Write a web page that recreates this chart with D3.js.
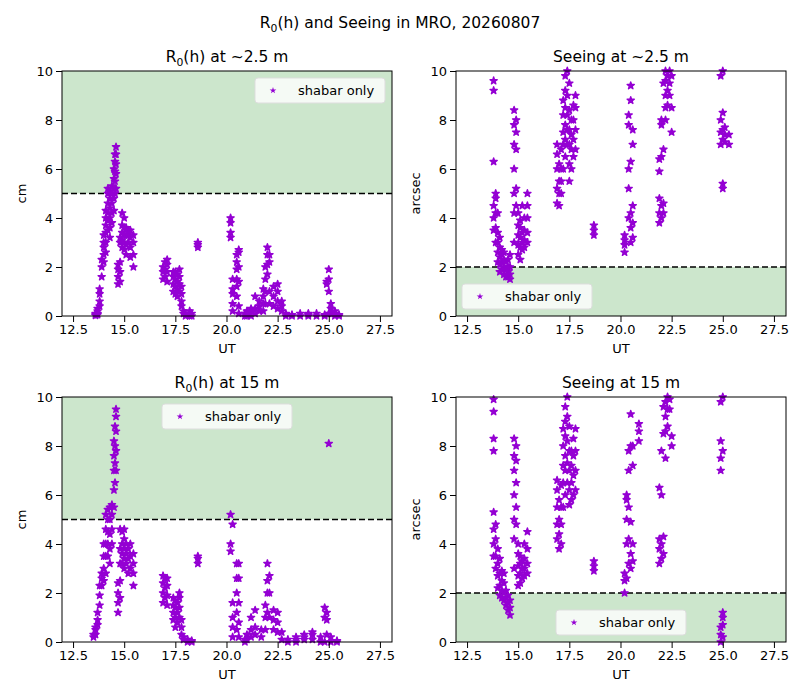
<!DOCTYPE html>
<html>
<head>
<style>
body { margin: 0; background: #fff; }
text { font-family: "DejaVu Sans", sans-serif; }
</style>
</head>
<body>
<svg id="fig" width="800" height="700"></svg>
<script src="https://d3js.org/d3.v7.min.js"></script>
<script>
// each column: [UT, values...]
const r0Low = [
  [13.6,0.02,0.05,0.1],[13.7,0.05,0.1,0.2,0.3],[13.8,0.4,0.6,0.9,1.1],[13.9,1.6,2.0,2.3],
  [14.0,2.2,2.5,2.8,3.0,3.3],[14.1,2.6,3.0,3.4,3.7,4.0,4.3],[14.2,3.5,3.9,4.2,4.6,5.0,5.2],
  [14.3,3.2,3.6,4.0,4.4,4.8,5.1],[14.4,3.8,4.2,4.6,5.0,5.3],[14.5,4.3,4.8,5.2,5.6,6.0],
  [14.55,5.0,5.5,5.9,6.3,6.6],[14.6,5.2,5.8,6.2,6.6,6.9],[14.7,1.3,1.6,1.9,2.1],
  [14.8,1.4,1.8,2.2,3.0,3.2],[14.9,2.8,3.1,3.4,3.7,4.2],[15.0,2.7,3.0,3.3,3.6,4.0],
  [15.1,2.5,2.9,3.3,3.6],[15.2,3.0,3.3,3.5],[15.3,2.4,2.8,3.2,3.5],[15.45,2.0,2.5,3.0,3.3],
  [16.9,1.5,1.8,2.0],[17.0,1.6,1.9,2.2],[17.1,1.4,1.8,2.1,2.3],[17.4,1.0,1.3,1.6,1.8],
  [17.5,0.9,1.2,1.5,1.8],[17.6,0.8,1.1,1.4,1.7],[17.7,1.0,1.3,1.6,1.9],[17.8,0.4,0.6,0.9,1.2],
  [17.9,0.1,0.2],[18.0,0.0,0.1],[18.2,0.0,0.05,0.2],[18.3,0.0,0.1],[18.6,2.8,2.9,3.0],
  [20.2,3.2,3.4,3.8,4.0],[20.3,0.2,0.5,0.9,1.1,1.5],[20.5,0.8,1.2,1.5,1.9,2.2,2.5],
  [20.6,0.1,0.4,1.4,2.0,2.6,2.7],[20.9,0.0,0.1],[21.0,0.0,0.1,0.2],[21.2,0.0,0.2,0.3],
  [21.4,0.1,0.3,0.8],[21.6,0.2,0.4,0.6],[21.8,0.2,0.5,0.8,1.1],[21.9,0.5,1.0,1.5,2.0],
  [22.0,1.7,2.1,2.5,2.8],[22.1,0.5,1.0,2.2,2.5],[22.3,0.4,0.8,1.2],[22.5,0.3,0.6,1.0,1.3],
  [22.7,0.2,0.4,0.6],[22.9,0.0,0.1],[23.2,0.0,0.05],[23.6,0.0,0.1],[24.0,0.0,0.05,0.1],
  [24.4,0.0,0.1],[24.8,0.0,0.05],[24.9,1.3,1.4],[25.0,0.1,1.0,1.5,1.9],[25.1,0.1,0.3,0.5],
  [25.3,0.0,0.1,0.2],[25.5,0.0,0.05]
];
const seeLow = [
  [13.8,3.5,4.0,4.5,6.3,9.2,9.6],[13.9,3.0,3.6,4.2,4.8,5.0],[14.0,2.2,2.6,3.0,3.4,4.2],
  [14.1,1.8,2.1,2.4,2.8,3.2],[14.2,1.9,2.2,2.5,2.7],[14.3,1.7,2.0,2.3,2.6],[14.4,1.6,1.9,2.2],
  [14.5,1.6,1.8,2.0,2.3],[14.6,1.5,1.7,2.0,2.5],[14.8,3.0,4.2,5.0,6.0,7.0,7.8,8.4],
  [14.9,4.5,5.2,6.8,7.5,8.0],[15.0,2.5,2.9,3.3,3.7,4.2],[15.1,2.3,2.8,3.2,3.6,3.9],
  [15.2,2.7,3.0,3.4,4.5],[15.3,2.8,3.1,3.5,4.0],[15.45,3.0,3.4,4.0,4.5,5.0],
  [16.9,4.6,5.2,6.0,6.6,7.0],[17.0,4.5,5.0,5.5,6.2],[17.1,5.0,5.5,6.0,6.8],
  [17.2,6.0,7.0,7.5,8.2,8.8],[17.3,6.5,7.2,7.8,8.5,9.2,9.8],[17.4,7.0,7.6,8.2,9.0,10.0],
  [17.5,5.5,6.2,7.0,7.6,8.4,9.5],[17.6,6.0,6.8,7.4,8.0],[17.7,6.5,7.2,8.0,8.6],
  [17.8,6.8,7.6,8.5,9.0],[18.7,3.3,3.5,3.7],[20.2,2.6,2.9,3.1,3.3],[20.4,4.0,5.2,6.0,7.8,8.2],
  [20.5,3.0,3.6,4.2,6.3,8.8,9.4],[20.6,3.2,3.8,4.5,7.0,7.6],[21.9,3.8,4.2,4.8,5.9,6.4],
  [22.0,4.0,4.5,6.5,7.8,8.0],[22.1,4.2,4.6,6.8,9.5],[22.2,8.0,8.5,9.0,9.6,10.0],
  [22.3,8.6,9.2,9.8],[22.4,9.0,9.5,10.0],[22.5,7.5,8.5,9.8],[24.9,7.0,7.5,8.0,9.8],
  [25.0,5.2,5.4,7.2,7.6,8.3,10.0],[25.1,7.1,7.4,7.7],[25.3,7.0,7.4]
];
const r0High = [
  [13.5,0.2,0.3],[13.6,0.3,0.5,0.6],[13.7,0.7,0.9,1.2],[13.8,1.5,1.9,2.3],[13.9,2.3,2.6,2.8],
  [14.0,2.5,3.0,3.5,4.0],[14.1,2.8,3.5,4.0,4.6,5.2],[14.2,3.5,4.0,4.5,5.0,5.4],
  [14.3,3.2,3.8,4.4,5.0,5.5],[14.4,4.0,4.6,5.2,5.6],[14.5,5.5,6.2,7.0,7.6,8.2],
  [14.55,6.5,7.3,8.0,8.8],[14.6,7.0,7.8,8.6,9.2,9.5],[14.7,1.2,1.6,2.0,2.4],
  [14.8,1.8,2.5,3.2,3.8,4.6],[14.9,3.2,3.6,4.0,4.5],[15.0,3.0,3.4,3.8,4.2,4.6],
  [15.1,3.2,3.6,4.0],[15.2,2.8,3.4,3.8],[15.3,3.0,3.5,4.0],[15.45,2.3,2.8,3.2,3.6],
  [16.9,1.6,2.0,2.4,2.7],[17.0,1.8,2.2,2.6],[17.1,1.5,1.9,2.3,2.6],[17.4,0.9,1.2,1.5,1.8],
  [17.5,0.6,1.0,1.4,1.7],[17.6,0.8,1.2,1.6],[17.7,1.0,1.4,1.8,2.0],[17.8,0.3,0.6,0.9],
  [17.9,0.1,0.2],[18.1,0.0,0.1],[18.3,0.0,0.05],[18.6,3.2,3.4,3.5],[20.2,3.7,4.0,5.2],
  [20.3,0.2,0.6,1.0,1.6,4.8],[20.5,0.5,1.2,2.0,2.6,3.2],[20.6,0.2,0.8,1.6,2.6,3.2],
  [20.9,0.0,0.1],[21.0,0.1,0.3],[21.2,0.2,0.5,1.0],[21.4,0.3,0.6,1.3],[21.7,0.2,0.5],
  [21.9,0.5,1.0,1.5],[22.0,1.2,2.0,2.5,3.2],[22.1,1.0,2.0,2.7],[22.3,0.5,0.9,1.3],
  [22.5,0.4,0.8,1.2],[22.7,0.1,0.4],[23.0,0.0,0.1],[23.4,0.0,0.1,0.2],[23.8,0.1,0.2,0.3],
  [24.2,0.1,0.3,0.4],[24.6,0.0,0.2],[24.8,0.0,1.0,1.4],[24.9,0.3,0.9,1.2],[25.0,8.1],
  [25.1,0.0,0.2],[25.4,0.0,0.05]
];
const seeHigh = [
  [13.8,3.5,4.0,4.6,5.3,7.8,8.3,9.4,9.9],[13.9,3.0,3.5,4.2,4.8],[14.0,2.2,2.7,3.2,3.8],
  [14.1,1.9,2.3,2.8,3.4],[14.2,1.8,2.1,2.5,2.9],[14.3,1.7,2.0,2.4,2.8],[14.4,1.5,1.8,2.1],
  [14.5,1.3,1.6,1.9],[14.6,1.1,1.4,1.7],[14.8,3.0,4.2,5.0,6.0,7.0,7.6,8.3],
  [14.9,4.8,5.5,6.5,7.4,8.0],[15.0,2.3,2.7,3.1,3.6,4.0],[15.1,2.4,2.8,3.2,3.5],
  [15.2,2.6,3.0,3.3],[15.3,2.7,3.0,3.4,4.0],[15.45,2.8,3.2,3.8,4.5],
  [16.9,4.2,4.8,5.5,6.2,6.6],[17.0,3.8,4.4,5.0,5.8],[17.1,4.0,4.8,5.5,6.4],
  [17.2,5.5,6.5,7.2,8.0,8.7],[17.3,6.0,7.0,7.6,8.4,9.0,9.6],[17.4,6.5,7.3,8.2,9.2,10.0],
  [17.5,5.6,6.2,7.0,7.8,8.8],[17.6,5.8,6.5,7.2,7.8],[17.7,6.0,6.8,7.6,8.3],
  [17.8,6.2,7.0,7.8,8.7],[18.7,2.9,3.1,3.3],[20.2,2.0,2.5,2.8],[20.3,2.6,4.0,5.0,5.8,6.0],
  [20.4,3.2,4.2,5.5,7.0,7.8],[20.5,3.0,3.6,4.9,8.0,9.3],[20.6,3.3,4.0,7.2,8.0],
  [20.9,8.2,8.6,8.9],[21.9,3.2,3.8,4.2,6.3],[22.0,3.4,4.0,6.0,7.8],[22.1,3.6,4.3,8.5,9.6],
  [22.2,7.5,8.6,9.2,9.8],[22.3,8.8,9.5,10.0],[22.4,9.5,9.9],[22.5,8.0,8.4],
  [24.9,0.0,0.3,0.6,7.0,7.5,8.2,9.8],[25.0,0.2,0.7,1.0,1.2,7.8,10.0]
];
const panels = [
  { title: 'R$0(h) at ~2.5 m', data: r0Low, ylab: 'cm', line: 5, good: [5, 10], legend: 'upper right' },
  { title: 'Seeing at ~2.5 m', data: seeLow, ylab: 'arcsec', line: 2, good: [0, 2], legend: 'lower left' },
  { title: 'R$0(h) at 15 m', data: r0High, ylab: 'cm', line: 5, good: [5, 10], legend: 'upper center' },
  { title: 'Seeing at 15 m', data: seeHigh, ylab: 'arcsec', line: 2, good: [0, 2], legend: 'lower center' }
];
const xTicks = [12.5, 15.0, 17.5, 20.0, 22.5, 25.0, 27.5];
const yTicks = [0, 2, 4, 6, 8, 10];

const svg = d3.select('#fig');
const purple = '#9400d3';
const star = d3.symbol().type(d3.symbolStar).size(16);

function richTitle(sel, str) {
  // "R$0" -> R with subscript 0
  const parts = str.split('$0');
  sel.append('tspan').text(parts[0]);
  if (parts.length > 1) {
    sel.append('tspan').attr('font-size', '0.7em').attr('dy', 4).text('0');
    sel.append('tspan').attr('dy', -4).text(parts[1]);
  }
}

const sup = svg.append('text').attr('x', 400).attr('y', 28).attr('text-anchor', 'middle').attr('font-size', 15.5);
richTitle(sup, 'R$0(h) and Seeing in MRO, 20260807');

const W = 330, H = 245;
const origins = [[62, 71], [456, 71], [62, 397], [456, 397]];

panels.forEach((p, i) => {
  const [ox, oy] = origins[i];
  const g = svg.append('g').attr('transform', `translate(${ox},${oy})`);
  const x = d3.scaleLinear().domain([11.96, 28.09]).range([0, W]);
  const y = d3.scaleLinear().domain([0, 10]).range([H, 0]);

  g.append('rect').attr('x', 0).attr('width', W)
    .attr('y', y(p.good[1])).attr('height', y(p.good[0]) - y(p.good[1]))
    .attr('fill', 'green').attr('fill-opacity', 0.2);
  g.append('line').attr('x1', 0).attr('x2', W).attr('y1', y(p.line)).attr('y2', y(p.line))
    .attr('stroke', '#000').attr('stroke-width', 1.6).attr('stroke-dasharray', '6,3');

  const pts = p.data.flatMap(c => c.slice(1).map(v => [c[0], v]));
  g.append('g').selectAll('path').data(pts).join('path')
    .attr('d', star).attr('fill', purple).attr('stroke', purple).attr('stroke-width', 1.4)
    .attr('stroke-linejoin', 'round')
    .attr('transform', d => `translate(${x(d[0])},${y(d[1])})`);

  const xa = g.append('g').attr('transform', `translate(0,${H})`)
    .call(d3.axisBottom(x).tickValues(xTicks).tickFormat(d3.format('.1f')).tickSizeOuter(0));
  const ya = g.append('g').call(d3.axisLeft(y).tickValues(yTicks).tickFormat(d3.format('d')).tickSizeOuter(0));
  [xa, ya].forEach(a => {
    a.selectAll('text').attr('font-size', 13).attr('fill', '#000').style('font-family', 'DejaVu Sans');
    a.select('.domain').remove();
  });
  g.append('rect').attr('width', W).attr('height', H).attr('fill', 'none').attr('stroke', '#000').attr('stroke-width', 1);

  const t = g.append('text').attr('x', W / 2).attr('y', -9).attr('text-anchor', 'middle').attr('font-size', 15.5);
  richTitle(t, p.title);
  g.append('text').attr('x', W / 2).attr('y', H + 37).attr('text-anchor', 'middle').attr('font-size', 13).text('UT');
  g.append('text').attr('transform', `translate(-36,${H / 2}) rotate(-90)`).attr('text-anchor', 'middle')
    .attr('font-size', 13).text(p.ylab);

  // legend
  const lw = 130, lh = 25;
  let lx, ly;
  if (p.legend === 'upper right') { lx = W - lw - 7; ly = 7; }
  else if (p.legend === 'lower left') { lx = 6; ly = H - lh - 7; }
  else if (p.legend === 'upper center') { lx = (W - lw) / 2; ly = 7; }
  else { lx = (W - lw) / 2 + 0; ly = H - lh - 7; }
  const lg = g.append('g').attr('transform', `translate(${lx},${ly})`);
  lg.append('rect').attr('width', lw).attr('height', lh).attr('rx', 3)
    .attr('fill', '#fff').attr('fill-opacity', 0.8).attr('stroke', '#ddd');
  lg.append('path').attr('d', d3.symbol().type(d3.symbolStar).size(14)).attr('fill', purple)
    .attr('transform', `translate(18,${lh / 2})`);
  lg.append('text').attr('x', 43).attr('y', lh / 2 + 4.5).attr('font-size', 13).text('shabar only');
});
</script>
</body>
</html>
